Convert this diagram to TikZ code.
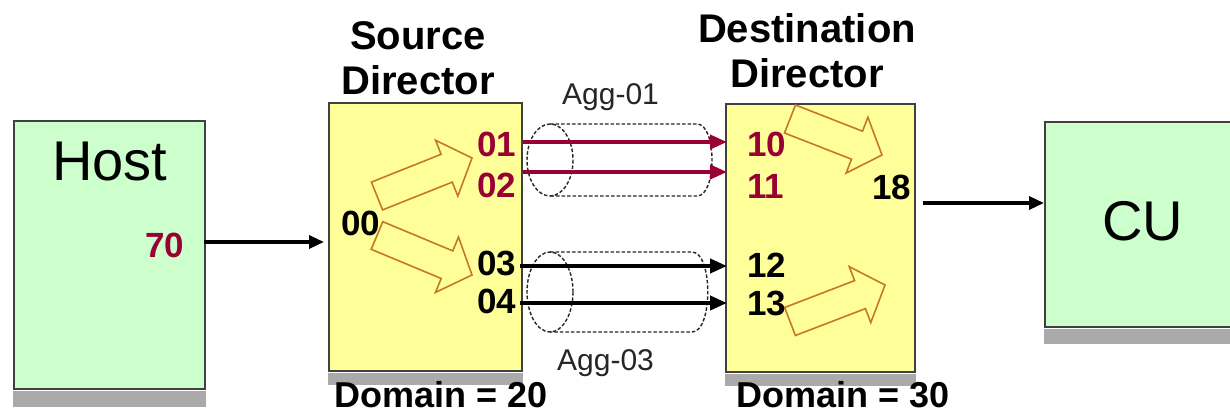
\documentclass[tikz,border=0pt]{standalone}
\usepackage{fontspec}
\setmainfont{Liberation Sans}
\usetikzlibrary{arrows.meta}
\definecolor{boxyellow}{RGB}{255,255,153}
\definecolor{boxgreen}{RGB}{204,255,204}
\definecolor{portred}{RGB}{153,0,51}
\definecolor{arroworange}{RGB}{200,118,40}
\definecolor{shadowgray}{RGB}{170,170,170}
\begin{document}
\begin{tikzpicture}[x=1pt,y=-1pt,
  box/.style={draw=black!75, line width=2pt, inner sep=0pt, anchor=north west},
  shadowfill/.style={fill=shadowgray, draw=none},
  port/.style={font=\bfseries\fontsize{35}{40}\selectfont, inner sep=0pt, anchor=base west},
  redport/.style={port, text=portred},
  titletext/.style={font=\bfseries\fontsize{40}{45}\selectfont, inner sep=0pt, anchor=base},
  bigtext/.style={font=\fontsize{56}{60}\selectfont, inner sep=0pt, anchor=base west},
  domtext/.style={font=\bfseries\fontsize{36}{40}\selectfont, inner sep=0pt, anchor=base west},
  aggtext/.style={font=\fontsize{30}{34}\selectfont, text=black!85, inner sep=0pt, anchor=base west},
  blockarrow/.style={draw=arroworange, fill=boxyellow, line width=1.6pt, line join=miter},
  link/.style={line width=4pt, -{Triangle[length=17pt,width=14pt]}},
  redlink/.style={link, draw=portred},
  feed/.style={line width=3.3pt, -{Triangle[length=15pt,width=13pt]}},
  cyl/.style={draw=black!85, line width=1.4pt, dash pattern=on 3.5pt off 2pt}
]
\useasboundingbox (0,0) rectangle (1230,414);
\clip (0,0) rectangle (1230,414);
\fill[white] (0,0) rectangle (1230,414);

% boxes
\node[box, fill=boxgreen, minimum width=191pt, minimum height=268pt] (host) at (13,120) {};
\node[box, fill=boxyellow, minimum width=193pt, minimum height=268pt] (src) at (328,102) {};
\node[box, fill=boxyellow, minimum width=189pt, minimum height=268pt] (dst) at (725,103) {};
\node[box, fill=boxgreen, minimum width=195pt, minimum height=205pt] (cu) at (1044,121) {};

% shadows
\fill[shadowfill] ([yshift=-1pt]host.south west) rectangle ([yshift=-17pt]host.south east);
\fill[shadowfill] ([yshift=-1pt]src.south west) rectangle ([yshift=-13pt]src.south east);
\fill[shadowfill] ([yshift=-1pt]dst.south west) rectangle ([yshift=-13pt]dst.south east);
\fill[shadowfill] ([yshift=-1pt]cu.south west) rectangle ([yshift=-16pt]cu.south east);

% block arrows
\draw[blockarrow] (371.4,182.1) -- (441.1,154.3) -- (435.6,140.3) -- (472,158) -- (457.8,196.1) -- (452.3,182.1) -- (382.6,209.9) -- cycle;
\draw[blockarrow] (382.8,221.7) -- (452.8,250.9) -- (458.5,237) -- (472,275) -- (435.5,292.4) -- (441.2,278.5) -- (371.2,249.3) -- cycle;
\draw[blockarrow] (795.5,105) -- (862.5,131.2) -- (867.9,117.3) -- (882,155) -- (846.1,173.1) -- (851.5,159.2) -- (784.5,133) -- cycle;
\draw[blockarrow] (784.6,307.5) -- (854.6,280.6) -- (849.2,266.6) -- (885,285) -- (870.8,322.6) -- (865.4,308.6) -- (795.4,335.5) -- cycle;

% titles
\node[titletext] (srcT1) at (418,50) {Source};
\node[titletext] (srcT2) at (418,95) {Director};
\node[titletext] (dstT1) at (807,43) {Destination};
\node[titletext] (dstT2) at (807,88) {Director};
\node[bigtext] (hostT) at (52,180) {Host};
\node[bigtext] (cuT) at (1102,240) {CU};
\node[domtext] (srcD) at (334,407.5) {Domain = 20};
\node[domtext] (dstD) at (736,407.5) {Domain = 30};

% ports
\node[redport] (p70) at (145,257) {70};
\node[port] (p00) at (341,235) {00};
\node[redport] (p01) at (477,157) {01};
\node[redport] (p02) at (477,197) {02};
\node[port] (p03) at (477,275) {03};
\node[port] (p04) at (477,313) {04};
\node[redport] (p10) at (747,157) {10};
\node[redport] (p11) at (747,198) {11};
\node[port] (p12) at (747,277) {12};
\node[port] (p13) at (747,315) {13};
\node[port] (p18) at (872,200) {18};

% aggregation cylinders
\draw[cyl] (550,160) ellipse [x radius=23, y radius=36];
\draw[cyl] (550,124) -- (697,124) .. controls (717,124) and (717,196) .. (697,196) -- (550,196);
\draw[cyl] (550,292) ellipse [x radius=23, y radius=40];
\draw[cyl] (550,252) -- (692,252) .. controls (713,252) and (713,332) .. (692,332) -- (550,332);
\node[aggtext] (agg1) at (562,105) {Agg-01};
\node[aggtext] (agg3) at (557,370) {Agg-03};

% link coordinates
\coordinate (l01) at (523,142);
\coordinate (l02) at (523,172);
\coordinate (l03) at (520,266);
\coordinate (l04) at (520,303);
\coordinate (hout) at (204,242);
\coordinate (dout) at (923,203);

% links
\draw[redlink] (l01) -- ([xshift=2pt]l01 -| dst.west);
\draw[redlink] (l02) -- ([xshift=2pt]l02 -| dst.west);
\draw[link] (l03) -- ([xshift=2pt]l03 -| dst.west);
\draw[link] (l04) -- ([xshift=2pt]l04 -| dst.west);
\draw[feed] (hout) -- ([xshift=-4pt]hout -| src.west);
\draw[feed] (dout) -- (dout -| cu.west);
\end{tikzpicture}
\end{document}
